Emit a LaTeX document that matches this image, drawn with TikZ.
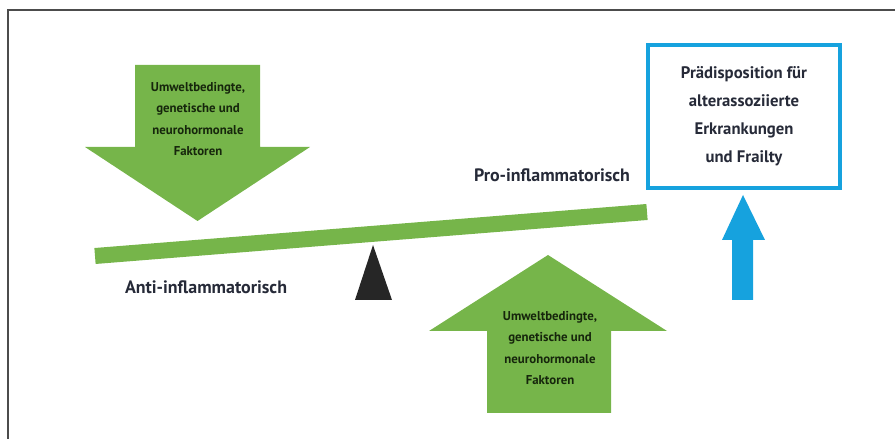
\documentclass[tikz,border=0pt]{standalone}
\usepackage{fontspec}
\setmainfont{PT Sans}
\usepackage{xcolor}
\usepackage{tikz}
\usetikzlibrary{positioning, calc}

\definecolor{leafgreen}{RGB}{118,181,74}
\definecolor{skyblue}{RGB}{22,162,222}
\definecolor{inktext}{RGB}{38,42,56}
\definecolor{factorink}{RGB}{22,38,12}

\begin{document}
\begin{tikzpicture}[
    greenarrow/.style={fill=leafgreen},
    factortext/.style={align=center, text=factorink, font=\bfseries\fontsize{7.3}{12}\selectfont},
    boxtext/.style={text=inktext, font=\bfseries\fontsize{9.5}{16}\selectfont},
    sidelabel/.style={text=inktext, font=\bfseries\fontsize{10.2}{16}\selectfont}
  ]
  \useasboundingbox (0,0) rectangle (17.9,8.78);

  % Frame (top and left edge)
  \draw[line width=1pt,gray!60!black] (0.16,0) -- (0.16,8.58) -- (17.9,8.58);

  % Downward arrow
  \coordinate (D1) at (2.70,7.48);
  \coordinate (D2) at (5.20,7.48);
  \coordinate (D3) at (5.20,5.84);
  \coordinate (D4) at (6.20,5.84);
  \coordinate (Dtip) at (3.95,4.36);
  \coordinate (D5) at (1.70,5.84);
  \coordinate (D6) at (2.70,5.84);
  \fill[greenarrow] (D1) -- (D2) -- (D3) -- (D4) -- (Dtip) -- (D5) -- (D6) -- cycle;
  \node[factortext] (downtext) at (3.96,6.40) {Umweltbedingte,\\genetische und\\neurohormonale\\Faktoren};

  % Upward arrow
  \coordinate (U1) at (9.74,0.52);
  \coordinate (U2) at (12.22,0.52);
  \coordinate (U3) at (12.22,2.16);
  \coordinate (U4) at (13.34,2.16);
  \coordinate (Utip) at (10.96,3.68);
  \coordinate (U5) at (8.58,2.16);
  \coordinate (U6) at (9.74,2.16);
  \fill[greenarrow] (U1) -- (U2) -- (U3) -- (U4) -- (Utip) -- (U5) -- (U6) -- cycle;
  \node[factortext] (uptext) at (11.0,1.82) {Umweltbedingte,\\genetische und\\neurohormonale\\Faktoren};

  % Beam and fulcrum
  \coordinate (L) at (1.90,3.66);
  \coordinate (R) at (12.94,4.54);
  \draw[leafgreen,line width=0.32cm] (L) -- (R);
  \fill[black!85] (7.46,3.88) -- (7.10,2.78) -- (7.84,2.78) -- cycle;

  % Labels
  \node[sidelabel] (pro) at (11.04,5.28) {Pro-inflammatorisch};
  \node[sidelabel] (anti) at (4.12,3.04) {Anti-inflammatorisch};

  % Outcome box
  \node[draw=skyblue, line width=2.3pt, fill=white, minimum width=3.84cm, minimum height=2.86cm,
        align=center, boxtext] (frailty) at (14.88,6.45)
        {Prädisposition für\\alterassoziierte\\Erkrankungen\\und Frailty};

  % Blue arrow
  \coordinate (B1) at (14.64,2.78);
  \coordinate (B2) at (15.06,2.78);
  \coordinate (B3) at (15.06,3.98);
  \coordinate (B4) at (15.30,3.98);
  \coordinate (Btip) at (14.86,4.88);
  \coordinate (B5) at (14.44,3.98);
  \coordinate (B6) at (14.64,3.98);
  \fill[skyblue] (B1) -- (B2) -- (B3) -- (B4) -- (Btip) -- (B5) -- (B6) -- cycle;
\end{tikzpicture}
\end{document}
